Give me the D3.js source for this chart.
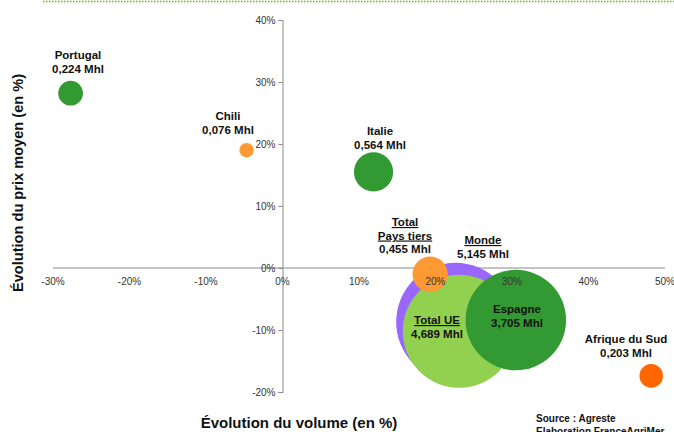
<!DOCTYPE html>
<html><head><meta charset="utf-8">
<script src="https://cdn.jsdelivr.net/npm/d3@7"></script>
<style>body{margin:0;background:#fff}svg{display:block;font-family:"Liberation Sans",Arial,sans-serif}</style>
</head><body><svg id="c" width="674" height="432"></svg>
<script>
const names = ["Monde","Total UE","Espagne","Total Pays tiers","Portugal","Chili","Italie","Afrique du Sud"];
const labelLines = [["Monde","5,145 Mhl"],["Total UE","4,689 Mhl"],["Espagne","3,705 Mhl"],["Total","Pays tiers","0,455 Mhl"],["Portugal","0,224 Mhl"],["Chili","0,076 Mhl"],["Italie","0,564 Mhl"],["Afrique du Sud","0,203 Mhl"]];
const underlined = [1,1,0,2,0,0,0,0]; // number of underlined lines
const volumeEvol = [22.6, 23.1, 30.5, 19.3, -27.7, -4.7, 11.9, 48.2];
const priceEvol = [-8.7, -10.2, -8.4, -1.0, 28.2, 19.0, 15.5, -17.4];
const volumes = [5.145, 4.689, 3.705, 0.455, 0.224, 0.076, 0.564, 0.203];
const colors = ["#9966FF","#92D050","#339933","#FF9933","#339933","#FF9933","#339933","#FF6600"];
const xTicks = [-30,-20,-10,0,10,20,30,40,50];
const yTicks = [-20,-10,0,10,20,30,40];
const xTitle = "Évolution du volume (en %)";
const yTitle = "Évolution du prix moyen (en %)";
const source = ["Source : Agreste","Elaboration FranceAgriMer"];

const svg = d3.select("#c");
const x = d3.scaleLinear().domain([-30,50]).range([53,665]);
const y = d3.scaleLinear().domain([-20,40]).range([392,20]);
const r = d3.scaleSqrt().domain([0,5.145]).range([0,59.2]);

// top dotted line
svg.append("line").attr("x1",43).attr("x2",674).attr("y1",1.5).attr("y2",1.5)
  .attr("stroke","#66BB00").attr("stroke-width",1.5).attr("stroke-dasharray","1.5,1.5");

// axis lines (behind bubbles)
svg.append("line").attr("x1",x(-30)).attr("x2",x(50)).attr("y1",y(0)).attr("y2",y(0)).attr("stroke","#888");
const yAxis = d3.axisLeft(y).tickValues(yTicks).tickSize(4).tickFormat(d=>d+"%");
const ya = svg.append("g").attr("transform",`translate(${x(0)},0)`).call(yAxis);
ya.select(".domain").attr("stroke","#888");
ya.selectAll(".tick line").attr("stroke","#888");
ya.selectAll(".tick text").attr("font-size",10).attr("fill","#333").attr("font-family","Liberation Sans, Arial").attr("x",-7);

// bubbles
const idx = d3.range(names.length);
svg.append("g").selectAll("circle").data(idx).join("circle")
  .attr("cx",i=>x(volumeEvol[i])).attr("cy",i=>y(priceEvol[i]))
  .attr("r",i=>r(volumes[i])).attr("fill",i=>colors[i]);

// x tick labels on top
svg.append("g").selectAll("text").data(xTicks).join("text")
  .attr("x",d=>x(d)).attr("y",y(0)+17).attr("text-anchor","middle")
  .attr("font-size",10).attr("fill","#333").text(d=>d+"%");

// labels
const labelPos = [[483,244],[437,324],[517,313],[405,226],[78,59],[228,120],[380,135],[626,343]];
idx.forEach(i=>{
  const g = svg.append("text").attr("text-anchor","middle").attr("font-size",11.5).attr("font-weight","bold").attr("fill","#111");
  labelLines[i].forEach((t,j)=>{
    g.append("tspan").attr("x",labelPos[i][0]).attr("y",labelPos[i][1]+j*13.5)
      .attr("text-decoration", j<underlined[i] ? "underline" : null).text(t);
  });
});

// axis titles
svg.append("text").attr("x",299).attr("y",428).attr("text-anchor","middle")
  .attr("font-size",15).attr("font-weight","bold").attr("fill","#111").text(xTitle);
svg.append("text").attr("transform","translate(23,183) rotate(-90)").attr("text-anchor","middle")
  .attr("font-size",14.6).attr("font-weight","bold").attr("fill","#111").text(yTitle);

// source
source.forEach((t,j)=>svg.append("text").attr("x",536).attr("y",422+j*13)
  .attr("font-size",10).attr("font-weight","bold").attr("fill","#111").text(t));
</script></body></html>
